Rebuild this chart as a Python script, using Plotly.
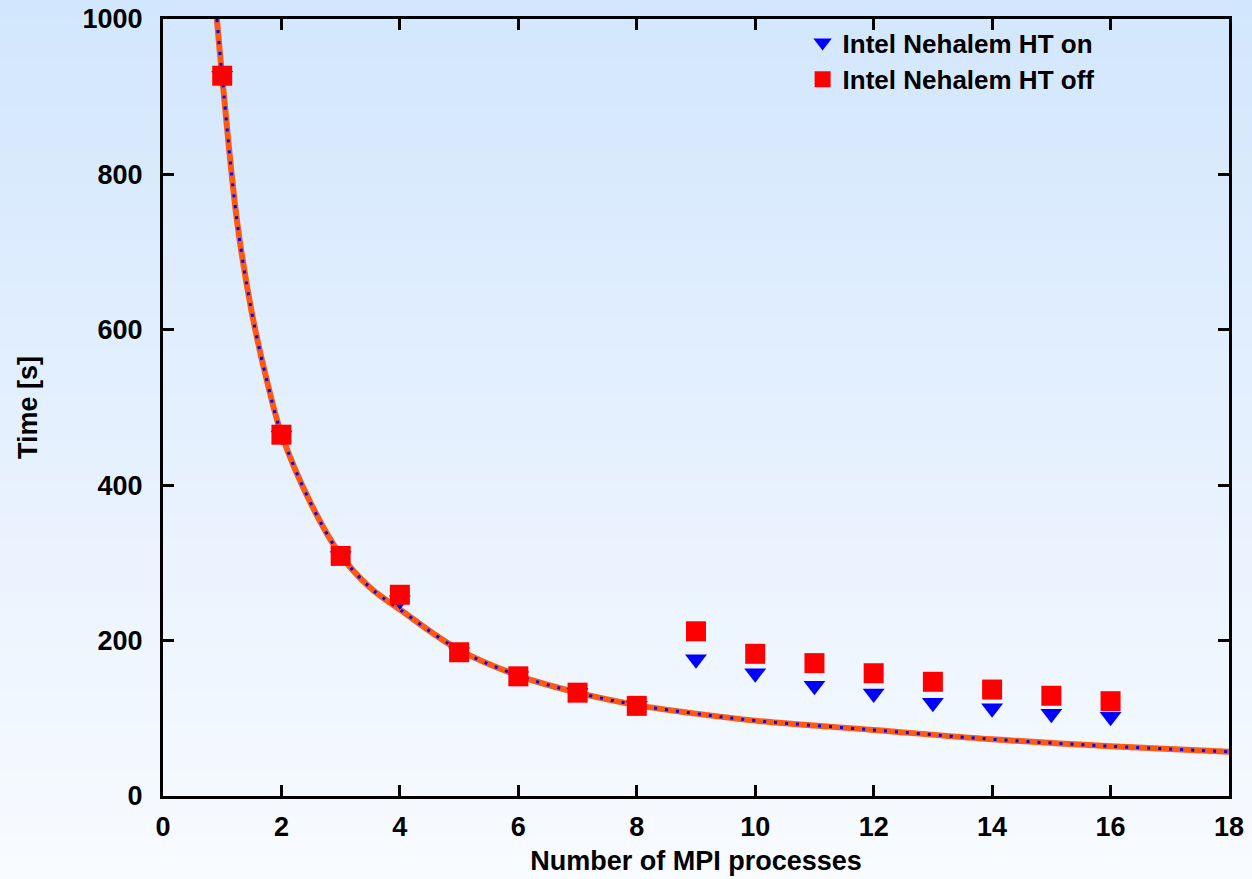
import plotly.graph_objects as go

# ---- data ----
procs = [1, 2, 3, 4, 5, 6, 7, 8, 9, 10, 11, 12, 13, 14, 15, 16]
ht_on = [927, 464, 309, 252, 185, 154, 133, 116, 176, 158, 142, 132, 120, 113, 106, 102]
ht_off = [927, 465, 309, 259, 185, 154, 133, 116, 212, 183, 171, 158, 147, 137, 129, 122]

# ideal-scaling curve, read at these x positions
curve_x = [0.91, 1, 1.25, 1.5, 1.75, 2, 2.5, 3, 3.5, 4, 5, 6, 7, 8, 9, 10, 12, 14, 16, 18]
curve_y = [1000, 925, 740, 622, 536, 466, 376, 310, 268, 240, 188, 155, 133, 117, 106, 97, 85, 73, 64, 57]

x_ticks = [0, 2, 4, 6, 8, 10, 12, 14, 16, 18]
y_ticks = [0, 200, 400, 600, 800, 1000]

FONT = "Liberation Sans Narrow, Liberation Sans, Arial, sans-serif"
FS = 27

fig = go.Figure()

fig.add_trace(go.Scatter(x=curve_x, y=curve_y, mode="lines", line=dict(color="#ff5a14", width=6, shape="spline"),
                         showlegend=False, hoverinfo="skip"))
fig.add_trace(go.Scatter(x=curve_x, y=curve_y, mode="lines",
                         line=dict(color="#0000ff", width=3, dash="3px,8px", shape="spline"),
                         showlegend=False, hoverinfo="skip"))
fig.add_trace(go.Scatter(x=procs, y=ht_on, mode="markers", name="Intel Nehalem HT on", legendrank=1,
                         marker=dict(symbol="triangle-down", size=19, color="#0000ff", line=dict(width=0))))
fig.add_trace(go.Scatter(x=procs, y=ht_off, mode="markers", name="Intel Nehalem HT off", legendrank=2,
                         marker=dict(symbol="square", size=20, color="#ff0000", line=dict(width=0))))

# vertical gradient background
shapes = []
n = 80
top = (210, 230, 253)
bot = (248, 251, 255)
y0p, y1p = -0.11, 1.03
for i in range(n):
    t = i / (n - 1)
    c = tuple(round(bot[k] + (top[k] - bot[k]) * t) for k in range(3))
    ya = y0p + (y1p - y0p) * i / n
    yb = y0p + (y1p - y0p) * (i + 1) / n + 0.002
    shapes.append(dict(type="rect", xref="paper", yref="paper", x0=-0.2, x1=1.05, y0=ya, y1=yb,
                       fillcolor="rgb(%d,%d,%d)" % c, line=dict(width=0), layer="below"))

axis_common = dict(showline=True, linecolor="black", linewidth=3, mirror="ticks", ticks="inside",
                   ticklen=11, tickwidth=2.5, tickcolor="black", showgrid=False, zeroline=False,
                   automargin=False,
                   tickfont=dict(family=FONT, size=FS, color="black", weight="bold"))

fig.update_layout(
    width=1252, height=879,
    margin=dict(l=163, r=23, t=19, b=83, autoexpand=False),
    paper_bgcolor="rgb(248,251,255)",
    plot_bgcolor="rgba(0,0,0,0)",
    shapes=shapes,
    xaxis=dict(range=[0, 18], tickvals=x_ticks, ticktext=[str(v) for v in x_ticks], ticklabelstandoff=5,
               title=dict(text="Number of MPI processes", standoff=10,
                          font=dict(family=FONT, size=FS, color="black", weight="bold")),
               **axis_common),
    yaxis=dict(range=[0, 1000], tickvals=y_ticks, ticktext=[str(v) for v in y_ticks], ticklabelstandoff=12,
               title=dict(text="Time [s]", standoff=38,
                          font=dict(family=FONT, size=FS, color="black", weight="bold")),
               **axis_common),
    legend=dict(x=0.6, y=1.0, xanchor="left", yanchor="top", bgcolor="rgba(0,0,0,0)",
                font=dict(family=FONT, size=FS - 1, color="black", weight="bold"),
                tracegroupgap=0, itemsizing="trace"),
    showlegend=True,
)

fig.write_html("out.html", config={"displayModeBar": False},
               post_script="document.body.style.margin='0';document.body.style.overflow='hidden';")
